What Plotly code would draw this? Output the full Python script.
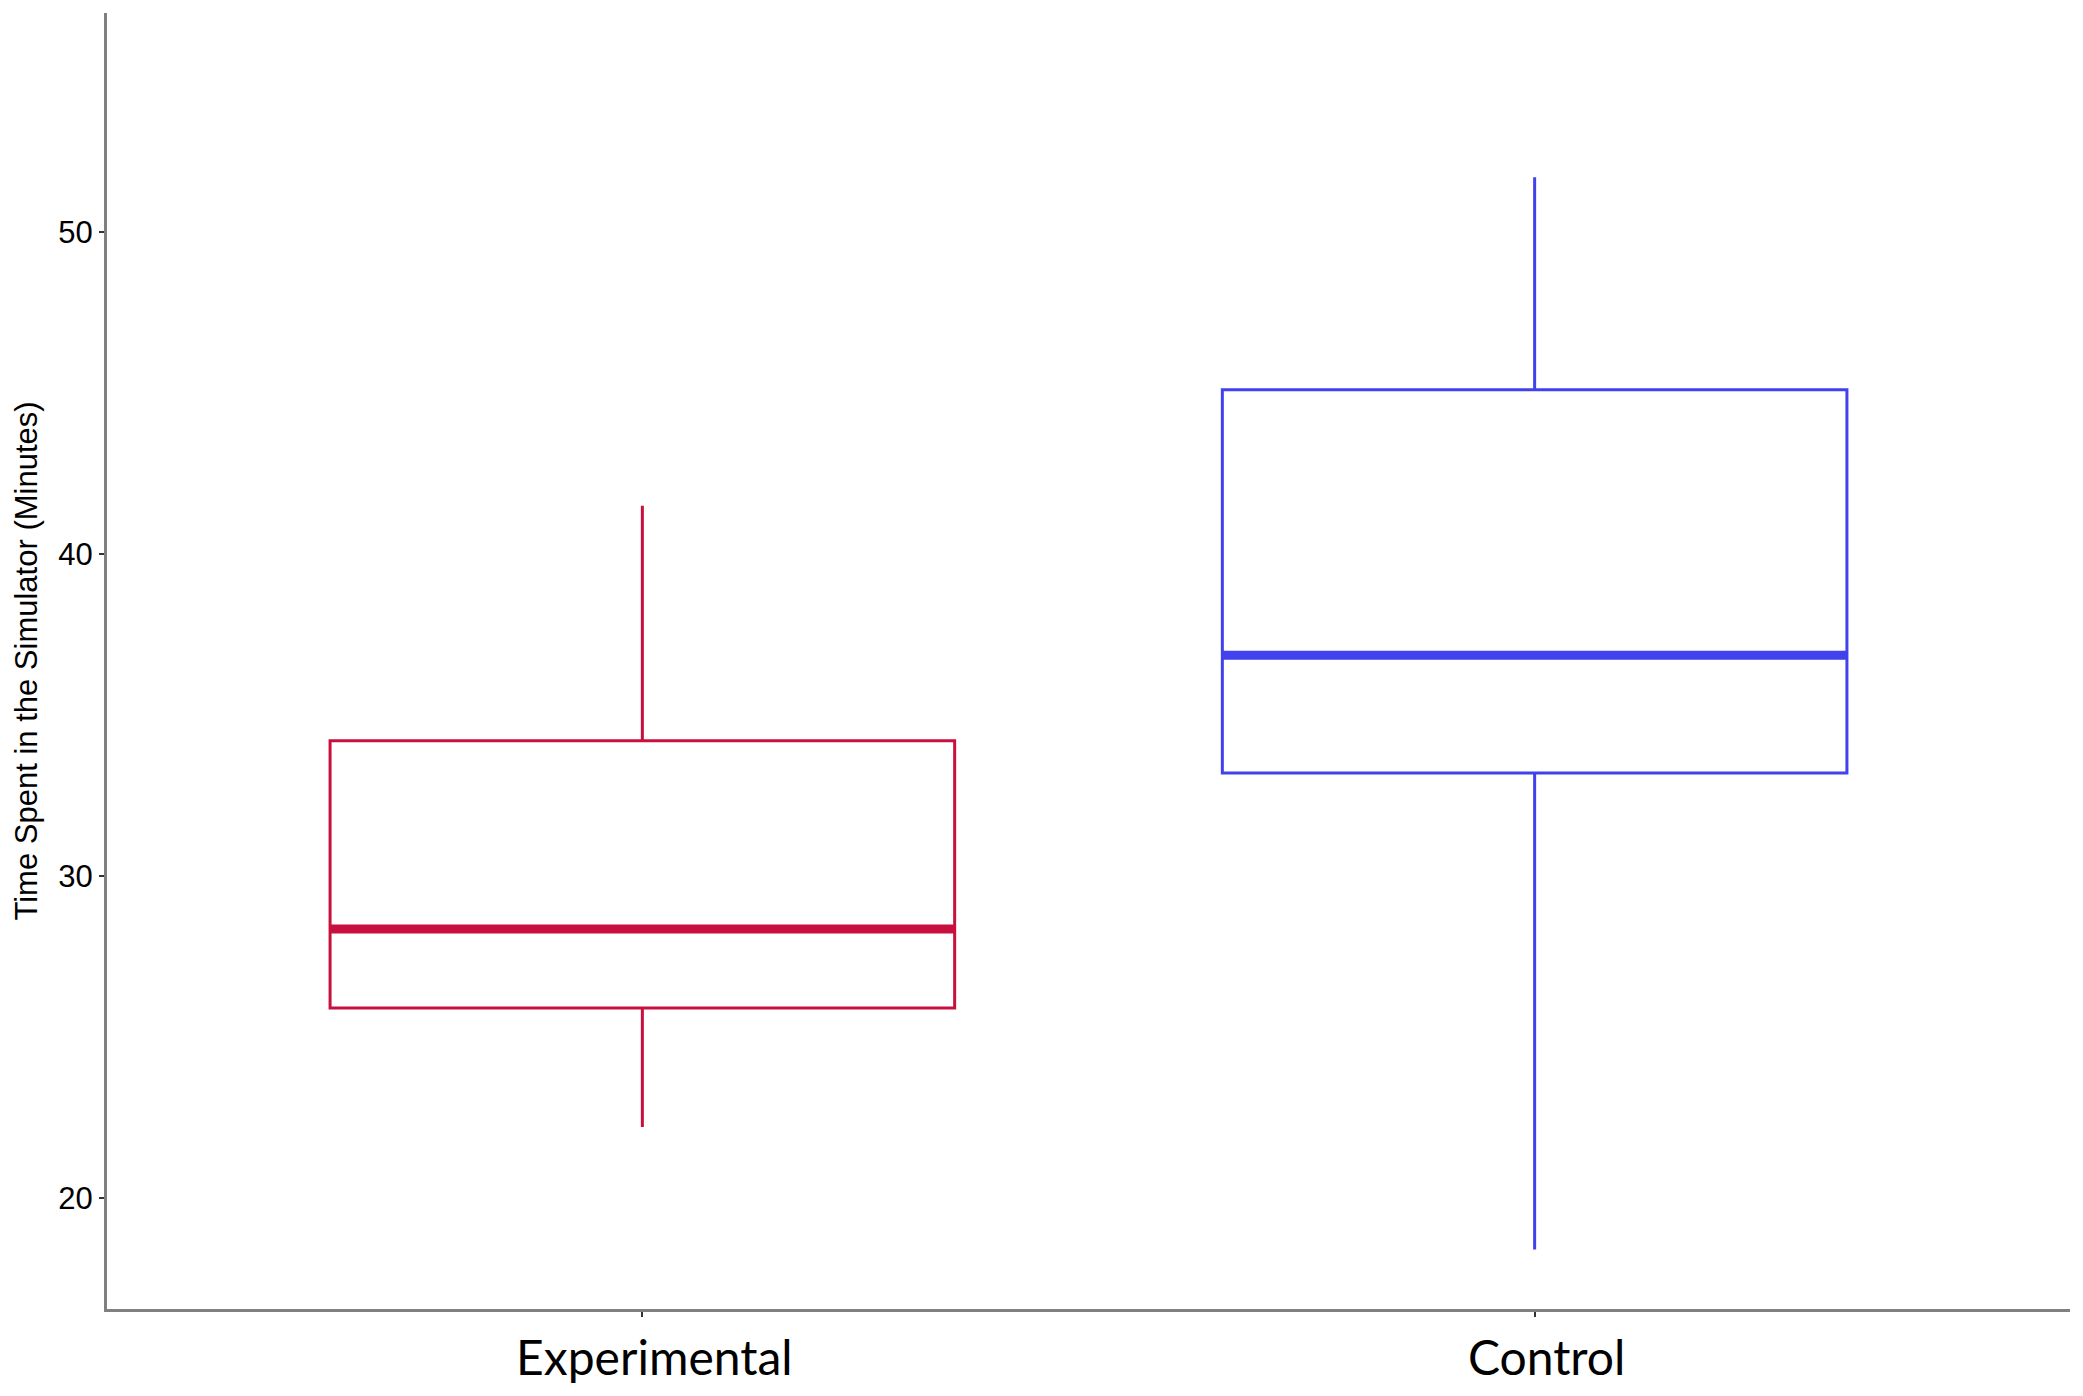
import plotly.graph_objects as go

groups = ["Experimental", "Control"]
lower_whisker = [22.2, 18.4]
q1_vals = [25.9, 33.2]
medians = [28.35, 36.85]
q3_vals = [34.2, 45.1]
upper_whisker = [41.5, 51.7]
colors = ["#C8103E", "#4141EE"]
y_ticks = [20, 30, 40, 50]

BOX_WIDTH = 0.7

fig = go.Figure()
for i, g in enumerate(groups):
    fig.add_trace(go.Box(
        x=[g], q1=[q1_vals[i]], median=[medians[i]], q3=[q3_vals[i]],
        lowerfence=[lower_whisker[i]], upperfence=[upper_whisker[i]],
        name=g, fillcolor="white", line=dict(color=colors[i], width=3),
        whiskerwidth=0, boxpoints=False, width=BOX_WIDTH, hoverinfo="skip",
    ))
    # thicker median line
    fig.add_shape(type="line", xref="x", yref="y",
                  x0=i - BOX_WIDTH / 2, x1=i + BOX_WIDTH / 2,
                  y0=medians[i], y1=medians[i],
                  line=dict(color=colors[i], width=9))

fig.update_layout(
    width=2083, height=1396,
    margin=dict(l=99, r=21, t=5, b=95),
    paper_bgcolor="white", plot_bgcolor="white",
    showlegend=False,
    boxmode="overlay",
)
fig.update_xaxes(
    type="category", categoryorder="array", categoryarray=groups,
    range=[-0.6, 1.6], showgrid=False, zeroline=False, automargin=False,
    showline=True, linecolor="#808080", linewidth=3,
    ticks="outside", ticklen=5, tickwidth=2, tickcolor="#333333",
    tickfont=dict(family="Lato, Calibri, sans-serif", size=48, color="black"),
    ticklabelstandoff=0, ticklabelshift=12,
)
fig.update_yaxes(
    range=[16.55, 56.8], tickvals=y_ticks, ticktext=[str(v) for v in y_ticks],
    showgrid=False, zeroline=False, automargin=False,
    showline=True, linecolor="#808080", linewidth=3,
    ticks="outside", ticklen=5, tickwidth=2, tickcolor="#333333",
    tickfont=dict(family="Liberation Sans, Arial, sans-serif", size=31, color="black"),
    ticklabelstandoff=0,
    title=dict(text="Time Spent in the Simulator (Minutes)", standoff=12,
               font=dict(family="Liberation Sans, Arial, sans-serif", size=31, color="black")),
)

fig.write_html("out.html")
